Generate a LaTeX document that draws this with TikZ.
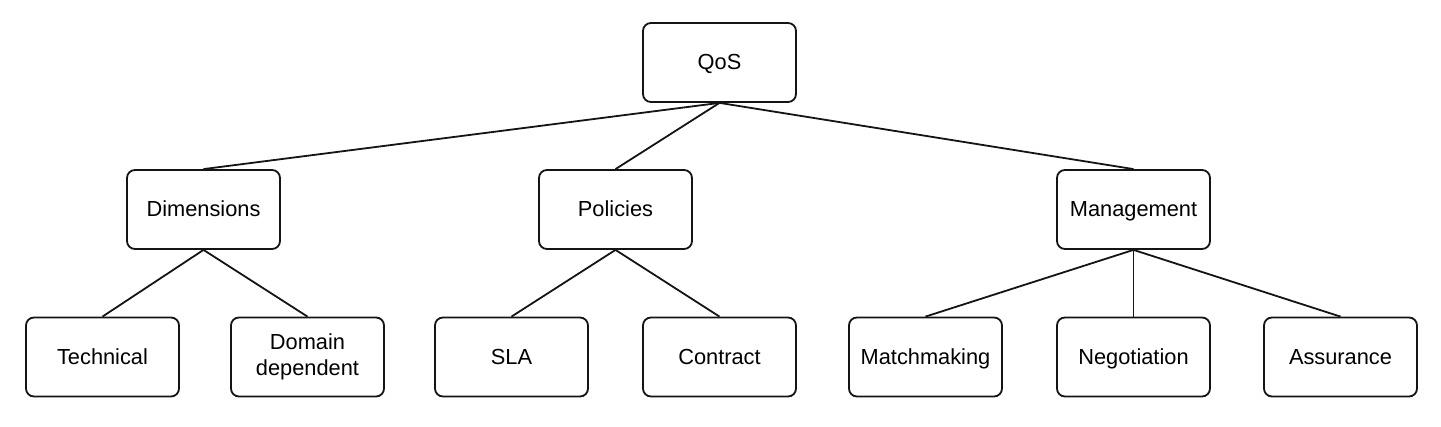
\documentclass[tikz,border=0pt]{standalone}
\usepackage{fontspec}
\setmainfont{Liberation Sans}
\usepackage{tikz}
\definecolor{box_gray}{RGB}{20,20,20}

\begin{document}
\begin{tikzpicture}[x=0.5pt,y=-0.5pt,semithick]
    \tikzstyle{box}=[draw=box_gray, rounded corners=4pt, line width=0.9pt, minimum width=76.5pt, minimum height=39.5pt, align=center, text=black, text height=0.72em, text depth=0pt, font=\fontsize{10.9}{13.2}\selectfont]
    \tikzstyle{twoline}=[style=box, text height=, text depth=]
    \tikzstyle{link}=[draw=box_gray, line width=0.9pt]

    \useasboundingbox (0,0) rectangle (1441,427);

    \node[box] (qos)  at (719.5,62.5)   {QoS};
    \node[box] (dim)  at (203.5,209.5)  {Dimensions};
    \node[box] (pol)  at (615.5,209.5)  {Policies};
    \node[box] (mgt)  at (1133.5,209.5) {Management};

    \node[box] (tech) at (102.5,357)    {Technical};
    \node[twoline] (dom)  at (307.5,357) {Domain\\dependent};
    \node[box] (sla)  at (511.5,357)    {SLA};
    \node[box] (con)  at (719.5,357)    {Contract};
    \node[box] (mat)  at (925.5,357)    {Matchmaking};
    \node[box] (neg)  at (1133.5,357)   {Negotiation};
    \node[box] (ass)  at (1340.5,357)   {Assurance};

    \path
     (qos.south) edge[link] (dim.north)
     (qos.south) edge[link] (pol.north)
     (qos.south) edge[link] (mgt.north)
     (dim.south) edge[link] (tech.north)
     (dim.south) edge[link] (dom.north)
     (pol.south) edge[link] (sla.north)
     (pol.south) edge[link] (con.north)
     (mgt.south) edge[link] (mat.north)
     (mgt.south) edge[link] (neg.north)
     (mgt.south) edge[link] (ass.north)
     ;
\end{tikzpicture}
\end{document}
